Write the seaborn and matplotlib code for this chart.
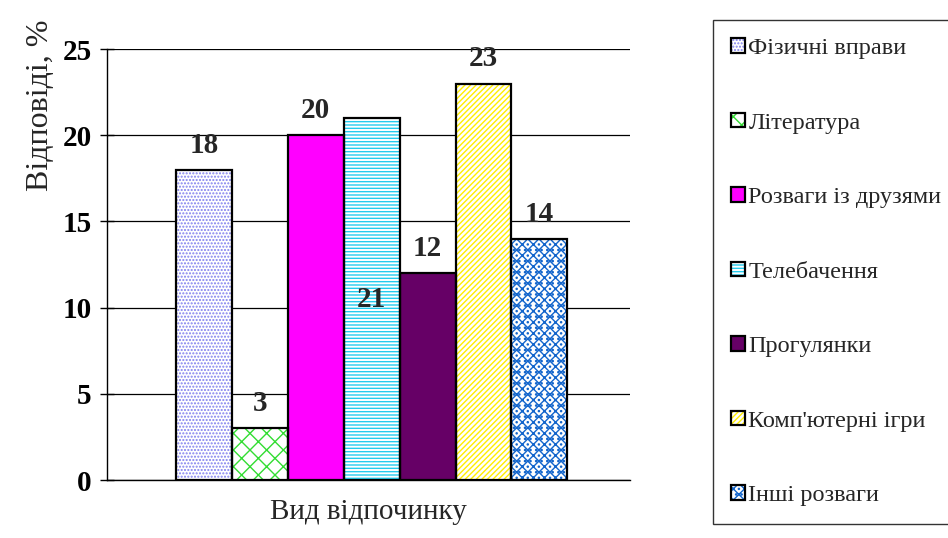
import pandas as pd
import numpy as np
import seaborn as sns
import matplotlib.pyplot as plt
from matplotlib.patches import Patch, Rectangle

categories = ['Фізичні вправи', 'Література', 'Розваги із друзями', 'Телебачення',
              'Прогулянки', "Комп'ютерні ігри", 'Інші розваги']
values = [18, 3, 20, 21, 12, 23, 14]
group = 'Вид відпочинку'

# fill colour, hatch colour, hatch pattern
fills = ['white', 'white', '#ff00ff', 'white', '#660066', 'white', 'white']
hatch_colors = ['#8080ee', '#33dd33', '#ff00ff', '#22ccee', '#660066', '#ffee00', '#1466cc']
hatches = ['.....', 'xx', '', '-----', '', '//////', '...xxx']

sns.set_theme(style='white')
plt.rcParams['font.family'] = ['Liberation Serif', 'DejaVu Serif']
plt.rcParams['hatch.linewidth'] = 1.0

df = pd.DataFrame({'group': [''] * len(categories), 'cat': categories, 'val': values})

fig = plt.figure(figsize=(9.48, 5.38), dpi=100)
ax = fig.add_axes([0.1129, 0.1078, 0.5517, 0.801])

sns.barplot(data=df, x='group', y='val', hue='cat', hue_order=categories,
            palette=fills, width=0.748, legend=False, ax=ax, saturation=1, errorbar=None)

bars = [p for p in ax.patches if isinstance(p, Rectangle)]
for p, fc, hc, h in zip(bars, fills, hatch_colors, hatches):
    p.set_facecolor(fc)
    p.set_edgecolor(hc)
    p.set_hatch(h)
    p.set_linewidth(0)
    ax.add_patch(Rectangle(p.get_xy(), p.get_width(), p.get_height(),
                           fill=False, edgecolor='black', linewidth=1.6, zorder=3))

for i, (p, v) in enumerate(zip(bars, values)):
    cx = p.get_x() + p.get_width() / 2
    if i == 3:
        ax.text(cx, v / 2, str(v), ha='center', va='center', fontsize=21,
                fontweight='bold', zorder=4)
    else:
        ax.annotate(str(v), (cx, v), xytext=(0, 8), textcoords='offset points',
                    ha='center', va='bottom', fontsize=21, fontweight='bold')

ax.set_xlim(-0.5 - 0.006, 0.5 - 0.006)
ax.set_ylim(0, 25)
ax.set_yticks(range(0, 26, 5))
ax.yaxis.grid(True, color='black', linewidth=0.9)
ax.set_axisbelow(True)
ax.tick_params(axis='y', direction='inout', length=10, width=1, left=True,
               labelsize=21, pad=6, colors='black')
for t in ax.get_yticklabels():
    t.set_fontweight('bold')
ax.set_xticks([])
for s in ['top', 'right']:
    ax.spines[s].set_visible(False)
ax.spines['left'].set_color('black')
ax.spines['bottom'].set_color('black')
ax.spines['left'].set_linewidth(1)
ax.spines['bottom'].set_linewidth(1)
ax.set_xlabel(group, fontsize=21, labelpad=14)
ax.set_ylabel('Відповіді, %', fontsize=23)
ax.yaxis.set_label_coords(-0.1, 0.87)

handles = [(Patch(facecolor=fc, edgecolor=hc, hatch=h, linewidth=0),
            Patch(fill=False, edgecolor='black', linewidth=1.6))
           for fc, hc, h in zip(fills, hatch_colors, hatches)]
leg = fig.legend(handles, categories, loc='upper left', bbox_to_anchor=(713 / 948, 1 - 20 / 538),
                 frameon=True, fancybox=False, edgecolor='black', fontsize=17.5,
                 handlelength=0.55, handleheight=0.55, handletextpad=0.15,
                 labelspacing=2.2, borderpad=0.75, borderaxespad=0)
leg.get_frame().set_linewidth(1)

fig.savefig('out.png', dpi=100)
